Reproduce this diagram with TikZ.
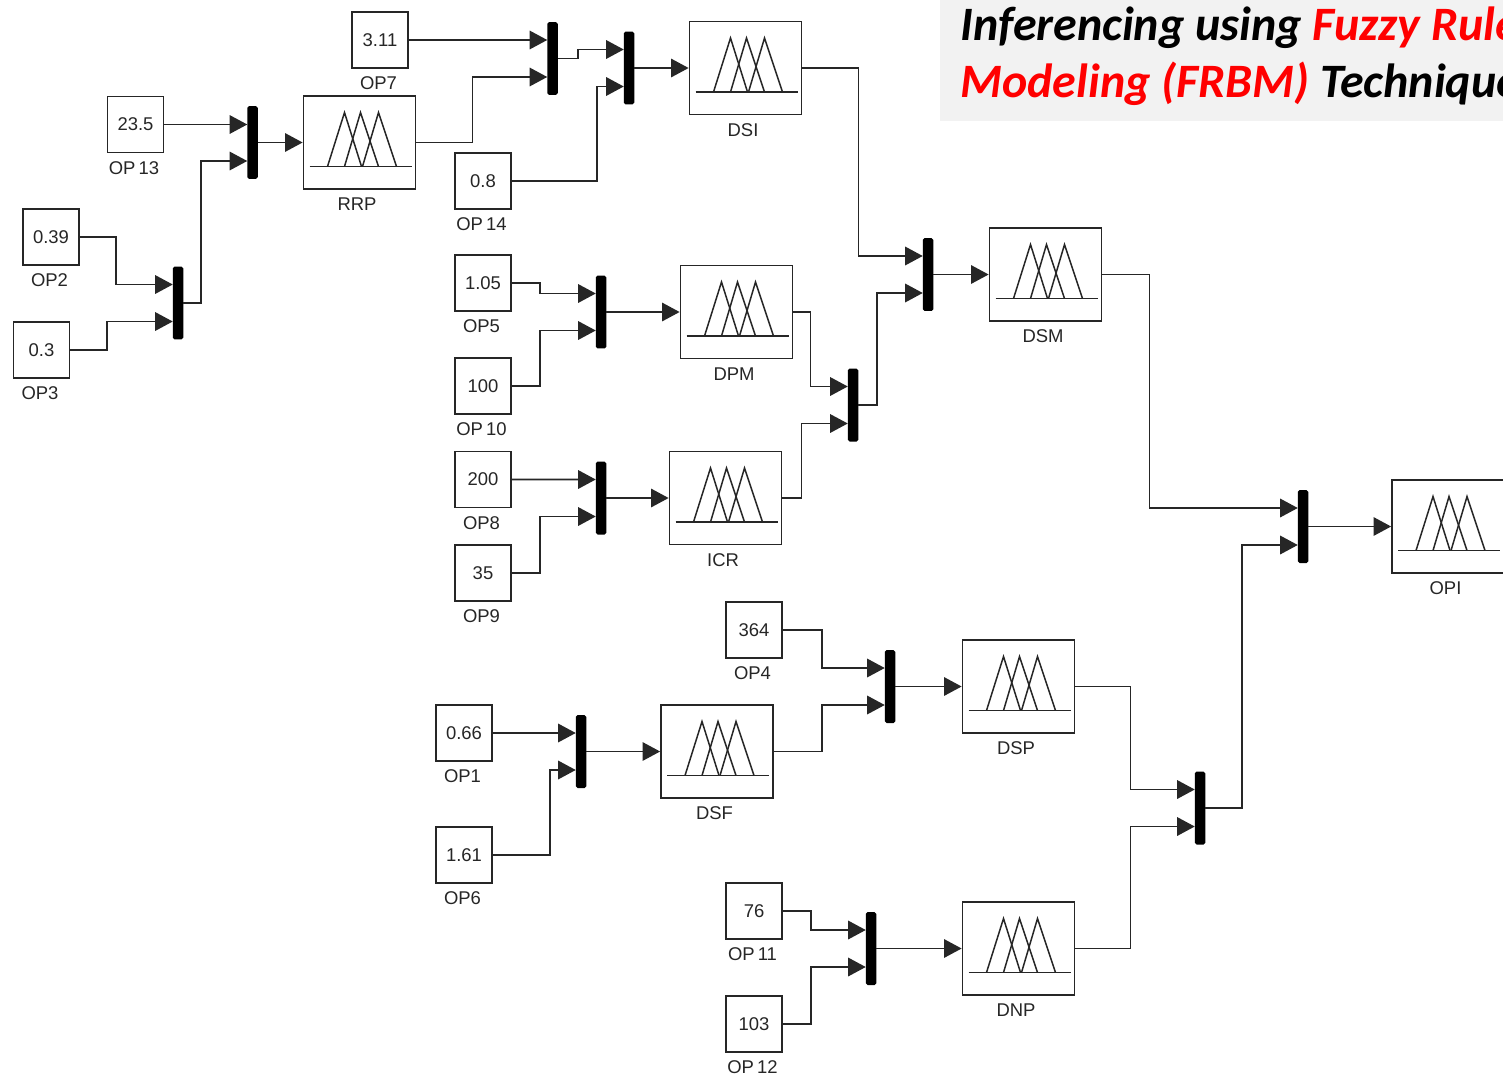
\documentclass[tikz,border=0pt]{standalone}
\usepackage{fontspec}
\setmainfont{Liberation Sans}
\newfontfamily\titlefont{Carlito}
\usetikzlibrary{positioning, calc, arrows.meta}
\definecolor{titlegray}{HTML}{F2F2F2}
\tikzset{
    constbox/.style={draw=black!85, line width=0.9pt, fill=white, minimum width=1.12cm, minimum height=1.12cm, inner sep=0pt, font=\fontsize{10.5}{11}\selectfont, text=black!85},
    fisbox/.style={draw=black!85, line width=1pt, fill=white, minimum width=2.24cm, minimum height=1.86cm, inner sep=0pt},
    muxbar/.style={fill=black, rounded corners=1pt, minimum width=0.21cm, minimum height=1.46cm, inner sep=0pt, outer sep=0pt},
    oplabel/.style={inner sep=0pt, font=\fontsize{10.5}{11}\selectfont, text=black!85},
    titleline/.style={anchor=base west, inner sep=0pt, font=\titlefont\bfseries\itshape\fontsize{27.3}{27.3}\selectfont},
    wire/.style={-{Triangle[length=10pt,width=10.5pt]}, line width=0.95pt, draw=black!85, >=stealth}
}

\begin{document}
\begin{tikzpicture}[x=0.02cm, y=-0.02cm]
    \useasboundingbox (0,0) rectangle (1503,1075);
    \clip (0,0) rectangle (1503,1075);
    \fill[white] (0,0) rectangle (1503,1075);

    % Title panel
    \fill[titlegray] (940,0) rectangle (1503,120.5);
    \node[titleline] (TitleA) at (960,40) {Inferencing using \textcolor{red}{Fuzzy Rule}};
    \node[titleline] (TitleB) at (960,97) {\textcolor{red}{Modeling (FRBM)} Technique};

    % Constant blocks
    \foreach \name/\x/\y/\val/\lab in {
        C7/380/40/3.11/OP7, C13/135.5/124.5/23.5/OP\,13, C2/51/237/0.39/OP2, C3/41.5/350/0.3/OP3,
        C14/483/181/0.8/OP\,14, C5/483/283/1.05/OP5, C10/483/386/100/OP\,10, C8/483/479.5/200/OP8,
        C9/483/573/35/OP9, C4/754/630/364/OP4, C1/464/733/0.66/OP1, C6/464/855/1.61/OP6,
        C11/754/911/76/OP\,11, C12/754/1024/103/OP\,12} {
        \node[constbox] (\name) at (\x,\y) {\val};
        \node[oplabel] (\name lab) at ($(\name)+(-1.5,43.5)$) {\lab};
    }

    % Fuzzy inference blocks
    \foreach \name/\x/\y in {
        RRP/359.5/142.5, DSI/745.5/68, DPM/736.5/312, ICR/725.5/498, DSM/1045.5/274.5,
        DSP/1018.5/686.5, DSF/717/751.5, DNP/1018.5/948.5, OPI/1448/526.5} {
        \node[fisbox] (\name) at (\x,\y) {};
        \node[oplabel] (\name lab) at ($(\name)+(-2.5,62)$) {\name};
        \begin{scope}[shift={(\x,\y)}, line width=0.85pt, black!85]
            \draw (-50,24) -- (52,24);
            \draw (-32,24) -- (-15,-30) -- (2,24);
            \draw (-15,24) -- (1,-30) -- (19,24);
            \draw (3,24) -- (19,-30) -- (37,24);
        \end{scope}
    }

    % Mux bars
    \foreach \name/\x/\y in {
        MuxRRP/252.5/142.5, MuxOP/178/303, MuxDSIa/552.5/58.5, MuxDSIb/629/68, MuxDPM/601/312,
        MuxICR/601/498, MuxMid/853/405, MuxDSM/928/274.5, MuxOPI/1303/526.5, MuxDSP/890/686.5,
        MuxDSF/581/751.5, MuxLow/1200/808, MuxDNP/871/948.5} {
        \node[muxbar] (\name) at (\x,\y) {};
        \coordinate (\name a) at ($(\name.west)+(0,-18.5)$);
        \coordinate (\name b) at ($(\name.west)+(0,18.5)$);
    }

    % Upper left group
    \draw[wire] (C13.east) -- (C13.east -| MuxRRPa);
    \draw[wire] (C2.east) -- ++(36,0) |- (MuxOPa);
    \draw[wire] (C3.east) -- ++(37,0) |- (MuxOPb);
    \draw[wire] (MuxOP.east) -- ++(18,0) |- (MuxRRPb);
    \draw[wire] (MuxRRP.east) -- (RRP.west);

    % DSI group
    \draw[wire] (C7.east) -- (MuxDSIaa);
    \draw[wire] (RRP.east) -- ++(56,0) |- (MuxDSIab);
    \draw[wire] (MuxDSIa.east) -- ++(20,0) |- (MuxDSIba);
    \draw[wire] (C14.east) -- ++(85,0) |- (MuxDSIbb);
    \draw[wire] (MuxDSIb.east) -- (DSI.west);

    % DPM and ICR group
    \draw[wire] (C5.east) -- ++(28,0) |- (MuxDPMa);
    \draw[wire] (C10.east) -- ++(28,0) |- (MuxDPMb);
    \draw[wire] (MuxDPM.east) -- (DPM.west);
    \draw[wire] (C8.east) -- (MuxICRa);
    \draw[wire] (C9.east) -- ++(28,0) |- (MuxICRb);
    \draw[wire] (MuxICR.east) -- (ICR.west);
    \draw[wire] (DPM.east) -- ++(17,0) |- (MuxMida);
    \draw[wire] (ICR.east) -- ++(19,0) |- (MuxMidb);

    % DSM group
    \draw[wire] (DSI.east) -- ++(56,0) |- (MuxDSMa);
    \draw[wire] (MuxMid.east) -- ++(19,0) |- (MuxDSMb);
    \draw[wire] (MuxDSM.east) -- (DSM.west);

    % DSP and DNP group
    \draw[wire] (C1.east) -- (MuxDSFa);
    \draw[wire] (C6.east) -- ++(57,0) |- (MuxDSFb);
    \draw[wire] (MuxDSF.east) -- (DSF.west);
    \draw[wire] (C4.east) -- ++(39,0) |- (MuxDSPa);
    \draw[wire] (DSF.east) -- ++(48,0) |- (MuxDSPb);
    \draw[wire] (MuxDSP.east) -- (DSP.west);
    \draw[wire] (C11.east) -- ++(28,0) |- (MuxDNPa);
    \draw[wire] (C12.east) -- ++(28,0) |- (MuxDNPb);
    \draw[wire] (MuxDNP.east) -- (DNP.west);
    \draw[wire] (DSP.east) -- ++(55,0) |- (MuxLowa);
    \draw[wire] (DNP.east) -- ++(55,0) |- (MuxLowb);

    % Output
    \draw[wire] (DSM.east) -- ++(47,0) |- (MuxOPIa);
    \draw[wire] (MuxLow.east) -- ++(37,0) |- (MuxOPIb);
    \draw[wire] (MuxOPI.east) -- (OPI.west);
\end{tikzpicture}
\end{document}
